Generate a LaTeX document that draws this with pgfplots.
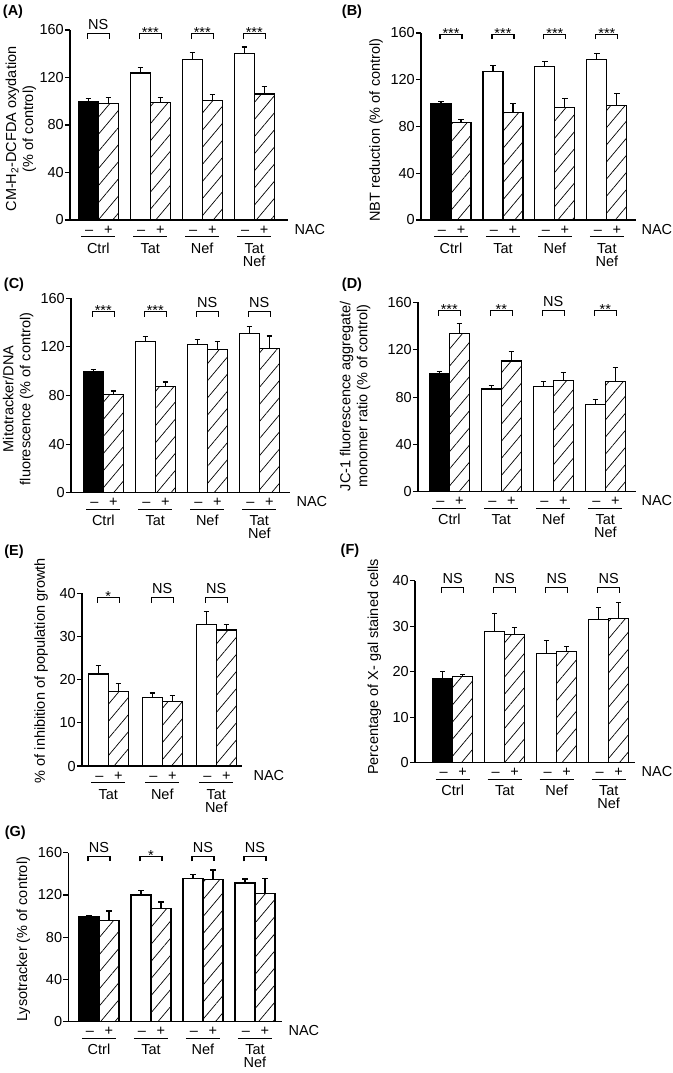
\documentclass[border=0pt]{standalone}
\usepackage{fontspec}
\setmainfont{Liberation Sans}
\usepackage{pgfplots}
\pgfplotsset{compat=1.18}
\usetikzlibrary{patterns.meta}
\newcommand\ff{\fontsize{14.5pt}{17pt}\selectfont}
\tikzset{hatchbar/.style={pattern={Lines[angle=50,distance=11pt,line width=0.7pt]},pattern color=black}}
\pgfplotsset{
  panel/.style={
    scale only axis, axis lines*=left, xtick=\empty, ymin=0, enlargelimits=false, clip=false,
    tick align=outside, major tick length=5pt,
    axis line style={line width=1.1pt},
    every tick/.style={line width=1.1pt, black},
    tick label style={font=\ff},
    yticklabel style={inner sep=1pt},
    /pgf/number format/assume math mode=true,
    every axis y label/.style={rotate=90, anchor=center, font=\ff, align=center},
    ybar, bar width=20pt,
    every axis plot/.append style={draw=black, line width=1.1pt},
    error bars/y dir=plus, error bars/y explicit,
    error bars/error bar style={line width=1.1pt, black},
    error bars/error mark options={rotate=90, line width=1.1pt, mark size=2.7pt, black},
  },
  ylabat/.style 2 args={ylabel style={at={(axis description cs:#1,#2)}}},
}
\newcommand\grp[2]{%
 \node[anchor=base, font=\ff] at ([xshift=-9pt,yshift=-14pt]axis cs:#1,0) {–};
 \node[anchor=base, font=\ff] at ([xshift=10pt,yshift=-14pt]axis cs:#1,0) {+};
 \draw[line width=1.1pt] ([xshift=-17pt,yshift=-16.5pt]axis cs:#1,0) -- ([xshift=17pt,yshift=-16.5pt]axis cs:#1,0);
 \node[anchor=base, font=\ff] at ([yshift=-33pt]axis cs:#1,0) {#2};}
\newcommand\grpb[3]{\grp{#1}{#2}\node[anchor=base,font=\ff] at ([yshift=-46pt]axis cs:#1,0) {#3};}
\newcommand\brk[2]{\draw[line width=1.1pt] ([xshift=-11pt,yshift=-5pt]axis cs:#1,#2) -- ([xshift=-11pt]axis cs:#1,#2) -- ([xshift=11pt]axis cs:#1,#2) -- ([xshift=11pt,yshift=-5pt]axis cs:#1,#2);}
\newcommand\sig[3]{\brk{#1}{#2}\node[anchor=base,font=\ff] at ([yshift=4pt]axis cs:#1,#2) {#3};}
\newcommand\sigs[3]{\brk{#1}{#2}\node[anchor=base,font=\ff] at ([yshift=-4pt]axis cs:#1,#2) {#3};}
\newcommand\nac[1]{\node[anchor=base west,font=\ff] at ([xshift=#1,yshift=-14pt]axis description cs:1,0) {NAC};}
\newcommand\plabel[3]{\node[font=\ff\bfseries] at ([xshift=#1,yshift=#2]axis description cs:0,1) {(#3)};}
\begin{document}
\begin{tikzpicture}
\useasboundingbox (0pt,0pt) rectangle (672pt,-1073pt);
% (A)
\begin{axis}[panel, at={(70pt,-220pt)}, anchor=south west, width=218pt, height=190pt,
  xmin=0.456, xmax=4.65, ymax=160, ytick={0,40,...,160},
  ylabel={CM-H\textsubscript{2}-DCFDA oxydation\\(\% of control)}, ylabat={-0.2248}{0.479}]
\addplot[fill=black, bar shift=-10pt] coordinates {(1,100) +- (0,2)};
\addplot[fill=white, bar shift=-10pt] coordinates {(2,123.8) +- (0,4.8) (3,135.3) +- (0,5.9) (4,140.4) +- (0,5.3)};
\addplot[hatchbar, bar shift=10pt] coordinates {(1,98.2) +- (0,5.1) (2,98.8) +- (0,4.2) (3,100.5) +- (0,5.0) (4,106.1) +- (0,6.2)};
\sig{1}{157}{NS}\sigs{2}{157}{***}\sigs{3}{157}{***}\sigs{4}{157}{***}
\grp{1}{Ctrl}\grp{2}{Tat}\grp{3}{Nef}\grpb{4}{Tat}{Nef}
\nac{3pt}
\plabel{-57pt}{18pt}{A}
\end{axis}
% (B)
\begin{axis}[panel, at={(421pt,-220pt)}, anchor=south west, width=215pt, height=187pt,
  xmin=0.423, xmax=4.56, ymax=160, ytick={0,40,...,160},
  ylabel={NBT reduction (\% of control)}, ylabat={-0.209}{0.481}]
\addplot[fill=black, bar shift=-10pt] coordinates {(1,100) +- (0,1.4)};
\addplot[fill=white, bar shift=-10pt] coordinates {(2,127) +- (0,5.3) (3,131.4) +- (0,4.6) (4,137) +- (0,5.3)};
\addplot[hatchbar, bar shift=10pt] coordinates {(1,83.7) +- (0,2.6) (2,92.3) +- (0,7.1) (3,96) +- (0,8) (4,97.7) +- (0,10.3)};
\sigs{1}{159}{***}\sigs{2}{159}{***}\sigs{3}{159}{***}\sigs{4}{159}{***}
\grp{1}{Ctrl}\grp{2}{Tat}\grp{3}{Nef}\grpb{4}{Tat}{Nef}
\nac{2pt}
\plabel{-69pt}{21pt}{B}
\end{axis}
% (C)
\begin{axis}[panel, at={(71pt,-492.7pt)}, anchor=south west, width=219pt, height=194.4pt,
  xmin=0.379, xmax=4.59, ymax=160, ytick={0,40,...,160},
  ylabel={Mitotracker/DNA\\fluorescence (\% of control)}, ylabat={-0.242}{0.482}]
\addplot[fill=black, bar shift=-10pt] coordinates {(1,99.6) +- (0,1.9)};
\addplot[fill=white, bar shift=-10pt] coordinates {(2,124.3) +- (0,4.1) (3,121.8) +- (0,4.2) (4,131.2) +- (0,5.5)};
\addplot[hatchbar, bar shift=10pt] coordinates {(1,81) +- (0,2.7) (2,87.3) +- (0,3.8) (3,118) +- (0,6.6) (4,118.5) +- (0,10.5)};
\sigs{1}{149}{***}\sigs{2}{149}{***}\sig{3}{149}{NS}\sig{4}{149}{NS}
\grp{1}{Ctrl}\grp{2}{Tat}\grp{3}{Nef}\grpb{4}{Tat}{Nef}
\nac{3pt}
\plabel{-57pt}{14pt}{C}
\end{axis}
% (D)
\begin{axis}[panel, at={(418pt,-491.8pt)}, anchor=south west, width=218pt, height=189.5pt,
  xmin=0.398, xmax=4.59, ymax=160, ytick={0,40,...,160},
  ylabel={JC-1 fluorescence aggregate/\\monomer ratio (\% of control)}, ylabat={-0.289}{0.505}]
\addplot[fill=black, bar shift=-10pt] coordinates {(1,100) +- (0,1.7)};
\addplot[fill=white, bar shift=-10pt] coordinates {(2,86.8) +- (0,3.3) (3,88.7) +- (0,4.3) (4,73.5) +- (0,4.2)};
\addplot[hatchbar, bar shift=10pt] coordinates {(1,133.8) +- (0,8.5) (2,110.4) +- (0,8.2) (3,94) +- (0,7) (4,93.2) +- (0,11.8)};
\sigs{1}{153}{***}\sigs{2}{153}{**}\sig{3}{153}{NS}\sigs{4}{153}{**}
\grp{1}{Ctrl}\grp{2}{Tat}\grp{3}{Nef}\grpb{4}{Tat}{Nef}
\nac{2pt}
\plabel{-66pt}{18pt}{D}
\end{axis}
% (E)
\begin{axis}[panel, at={(82pt,-766pt)}, anchor=south west, width=160pt, height=172.7pt,
  xmin=0.513, xmax=3.476, ymax=40, ytick={0,10,...,40},
  ylabel={\% of inhibition of population growth}, ylabat={-0.256}{0.552}]
\addplot[fill=white, bar shift=-10pt] coordinates {(1,21.3) +- (0,1.9) (2,15.9) +- (0,1.0) (3,32.8) +- (0,2.9)};
\addplot[hatchbar, bar shift=10pt] coordinates {(1,17.2) +- (0,2.0) (2,14.9) +- (0,1.5) (3,31.5) +- (0,1.3)};
\sigs{1}{39}{*}\sig{2}{39}{NS}\sig{3}{39}{NS}
\grp{1}{Tat}\grp{2}{Nef}\grpb{3}{Tat}{Nef}
\nac{8pt}
\plabel{-68pt}{42pt}{E}
\end{axis}
% (F)
\begin{axis}[panel, at={(415pt,-762.7pt)}, anchor=south west, width=220.2pt, height=182pt,
  xmin=0.275, xmax=4.51, ymax=40, ytick={0,10,...,40},
  ylabel={Percentage of X- gal stained cells}, ylabat={-0.184}{0.527}]
\addplot[fill=black, bar shift=-10pt] coordinates {(1,18.5) +- (0,1.6)};
\addplot[fill=white, bar shift=-10pt] coordinates {(2,28.9) +- (0,3.9) (3,24.0) +- (0,2.8) (4,31.5) +- (0,2.6)};
\addplot[hatchbar, bar shift=10pt] coordinates {(1,18.9) +- (0,0.4) (2,28.1) +- (0,1.7) (3,24.5) +- (0,1.1) (4,31.7) +- (0,3.5)};
\sig{1}{38.5}{NS}\sig{2}{38.5}{NS}\sig{3}{38.5}{NS}\sig{4}{38.5}{NS}
\grp{1}{Ctrl}\grp{2}{Tat}\grp{3}{Nef}\grpb{4}{Tat}{Nef}
\nac{3pt}
\plabel{-65pt}{30pt}{F}
\end{axis}
% (G)
\begin{axis}[panel, at={(68.3pt,-1021.7pt)}, anchor=south west, width=213.7pt, height=169pt,
  xmin=0.41, xmax=4.52, ymax=160, ytick={0,40,...,160},
  ylabel={Lysotracker (\% of control)}, ylabat={-0.2106}{0.488}]
\addplot[fill=black, bar shift=-10pt] coordinates {(1,99.4) +- (0,1.3)};
\addplot[fill=white, bar shift=-10pt] coordinates {(2,120) +- (0,4.3) (3,136) +- (0,3.5) (4,131.3) +- (0,3.8)};
\addplot[hatchbar, bar shift=10pt] coordinates {(1,95.6) +- (0,9.2) (2,107.3) +- (0,6.0) (3,134.7) +- (0,8.9) (4,121.5) +- (0,13.9)};
\sig{1}{156.5}{NS}\sigs{2}{156.5}{*}\sig{3}{156.5}{NS}\sig{4}{156.5}{NS}
\grp{1}{Ctrl}\grp{2}{Tat}\grp{3}{Nef}\grpb{4}{Tat}{Nef}
\nac{3pt}
\plabel{-53pt}{20pt}{G}
\end{axis}
\end{tikzpicture}
\end{document}
